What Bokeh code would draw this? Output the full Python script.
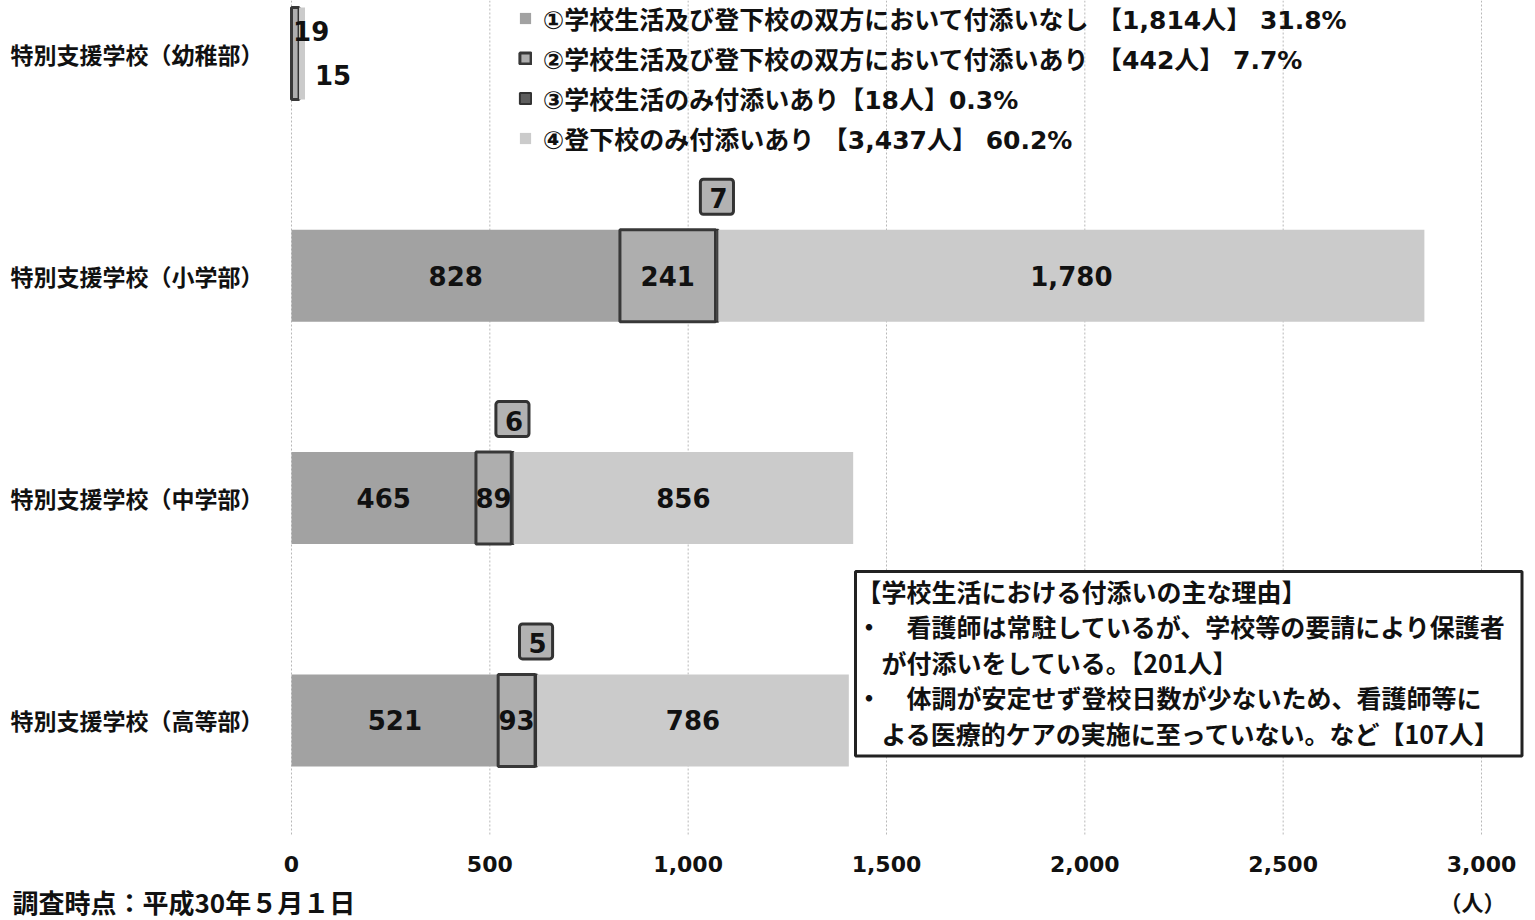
import numpy as np
from bokeh.plotting import figure
from bokeh.models import (Range1d, FixedTicker, NumeralTickFormatter, Legend, LegendItem,
                          ColumnDataSource, Label)
from bokeh.core.properties import value
from bokeh.embed import file_html
from bokeh.resources import INLINE

# ---------------- data ----------------
categories = ["特別支援学校（幼稚部）", "特別支援学校（小学部）",
              "特別支援学校（中学部）", "特別支援学校（高等部）"]
series_names = [
    "①学校生活及び登下校の双方において付添いなし 【1,814人】 31.8%",
    "②学校生活及び登下校の双方において付添いあり 【442人】 7.7%",
    "③学校生活のみ付添いあり【18人】0.3%",
    "④登下校のみ付添いあり 【3,437人】 60.2%",
]
none_both = [0, 828, 465, 521]      # ① 付添いなし
both = [19, 241, 89, 93]            # ② 双方あり
school_only = [0, 7, 6, 5]          # ③ 学校生活のみ
commute_only = [15, 1780, 856, 786] # ④ 登下校のみ
x_ticks = [0, 500, 1000, 1500, 2000, 2500, 3000]
unit_label = "（人）"
note_text = "調査時点：平成30年５月１日"
box_text = ("【学校生活における付添いの主な理由】\n"
            "・　看護師は常駐しているが、学校等の要請により保護者\n"
            "　が付添いをしている。【201人】\n"
            "・　体調が安定せず登校日数が少ないため、看護師等に\n"
            "　よる医療的ケアの実施に至っていない。など【107人】")

# ---------------- styles / geometry ----------------
JP = "Noto Sans CJK JP"
NUM = "DejaVu Sans"
MIX = "DejaVu Sans, Noto Sans CJK JP"
fills = ["#a2a2a2", "#aeaeae", "#5e5e5e", "#cbcbcb"]
lines = [None, "#383838", "#333333", None]
line_w = [0, 3, 2, 0]

W, H = 1535, 920
X0_PX, X3000_PX = 291, 1481          # where 0 and 3000 sit on the canvas
ROW0_PX, ROW_STEP = 53, 222.3        # first category centre / row pitch
AXIS_PX = 835                         # x-axis baseline
ppu = (X3000_PX - X0_PX) / 3000.0
x_start = -X0_PX / ppu
x_end = (W - X0_PX) / ppu
y_top = -ROW0_PX / ROW_STEP
y_bottom = (H - ROW0_PX) / ROW_STEP
y_axis_loc = (AXIS_PX - ROW0_PX) / ROW_STEP

series = [none_both, both, school_only, commute_only]
pos = np.arange(len(categories))
stack = np.vstack([np.array(s, dtype=float) for s in series])
rights = np.cumsum(stack, axis=0)
lefts = rights - stack

p = figure(width=W, height=H, output_backend="svg", toolbar_location=None,
           x_range=Range1d(x_start, x_end), y_range=Range1d(y_bottom, y_top),
           min_border_left=0, min_border_right=0, min_border_top=0,
           min_border_bottom=0)
p.outline_line_color = None
p.background_fill_color = "white"
p.xgrid.visible = False
p.ygrid.visible = False

# vertical dashed gridlines at the tick positions, down to the axis
p.segment(x0=x_ticks, x1=x_ticks, y0=[y_top] * len(x_ticks), y1=[y_axis_loc] * len(x_ticks),
          line_color="#b8b8b8", line_dash="2 2", line_width=1)

renderers = []
bar_h = 0.414
for k in range(4):
    src = ColumnDataSource(dict(y=pos, left=lefts[k], right=rights[k]))
    r = p.hbar(y="y", left="left", right="right", height=bar_h, source=src,
               fill_color=fills[k], line_color=lines[k], line_width=line_w[k])
    renderers.append(r)

# inner labels (large segments of ①②④) and side labels for tiny segments
lx, ly, lt = [], [], []
sx, sy, st, soff = [], [], [], []
for k in (0, 1, 3):
    for i in range(len(categories)):
        v = stack[k, i]
        if v >= 50:
            lx.append(lefts[k, i] + v / 2); ly.append(pos[i]); lt.append(f"{int(v):,}")
        elif v > 0:
            sx.append(rights[k, i]); sy.append(pos[i]); st.append(f"{int(v):,}")
            soff.append(-23 if k == 1 else 21)
p.text(x=lx, y=ly, text=lt, text_align="center", text_baseline="middle",
       text_font=value(NUM), text_font_style="bold", text_font_size="26px",
       text_color="#111111")
small_src = ColumnDataSource(dict(x=sx, y=sy, text=st, yo=soff,
                                  xo=[-6 if o < 0 else 10 for o in soff]))
p.text(x="x", y="y", text="text", x_offset="xo", y_offset="yo", source=small_src,
       text_align="left", text_baseline="middle", text_font=value(NUM),
       text_font_style="bold", text_font_size="26px", text_color="#111111")

# ③ labels boxed above the bars
bx, by, bt = [], [], []
for i in range(len(categories)):
    v = stack[2, i]
    if v > 0:
        bx.append(lefts[2, i] + v / 2); by.append(pos[i]); bt.append(f"{int(v)}")
p.text(x=bx, y=by, text=bt, y_offset=-79, text_align="center", text_baseline="middle",
       text_font=value(NUM), text_font_style="bold", text_font_size="26px",
       text_color="#111111", background_fill_color="#b2b2b2",
       border_line_color="#333333", border_line_width=3, padding=(9, 6, 9, 6),
       border_radius=3)

# axes (fixed inside the full-canvas frame)
p.xaxis.fixed_location = y_axis_loc
p.xaxis.ticker = FixedTicker(ticks=x_ticks)
p.xaxis.formatter = NumeralTickFormatter(format="0,0")
p.xaxis.axis_line_color = None
p.xaxis.major_tick_line_color = None
p.xaxis.minor_tick_line_color = None
p.xaxis.major_label_standoff = 14
p.xaxis.major_label_text_font = NUM
p.xaxis.major_label_text_font_style = "bold"
p.xaxis.major_label_text_font_size = "22px"
p.xaxis.major_label_text_color = "#111111"

p.yaxis.fixed_location = 0
p.yaxis.ticker = FixedTicker(ticks=list(pos))
p.yaxis.major_label_overrides = {int(i): c for i, c in zip(pos, categories)}
p.yaxis.axis_line_color = None
p.yaxis.major_tick_line_color = None
p.yaxis.minor_tick_line_color = None
p.yaxis.major_label_standoff = 22
p.yaxis.major_label_text_font = JP
p.yaxis.major_label_text_font_style = "bold"
p.yaxis.major_label_text_font_size = "23px"
p.yaxis.major_label_text_color = "#111111"

# legend
legend = Legend(items=[LegendItem(label=n, renderers=[r]) for n, r in zip(series_names, renderers)],
                location=(518, 764), padding=0, margin=0, spacing=4,
                glyph_width=14, glyph_height=14, label_standoff=11,
                label_text_font=MIX, label_text_font_style="bold",
                label_text_font_size="25px", label_text_color="#111111",
                border_line_color=None, background_fill_alpha=0)
p.add_layout(legend)

# annotation box
p.add_layout(Label(x=855, y=H - 571, x_units="screen", y_units="screen", anchor="top_left",
                   text=box_text, text_font=JP, text_font_style="bold",
                   text_font_size="25px", text_line_height=0.99, text_color="#111111",
                   background_fill_color="white", border_line_color="#222222",
                   border_line_width=3, padding=(1, 16, 1, 5)))
# note & unit
p.add_layout(Label(x=12, y=1, x_units="screen", y_units="screen", anchor="bottom_left",
                   text=note_text, text_font=JP, text_font_style="bold",
                   text_font_size="26px", text_color="#111111"))
p.add_layout(Label(x=1472, y=H - 900, x_units="screen", y_units="screen", anchor="center",
                   text=unit_label, text_font=JP, text_font_style="bold",
                   text_font_size="22px", text_color="#111111"))

open("out.html", "w").write(file_html(p, INLINE))
